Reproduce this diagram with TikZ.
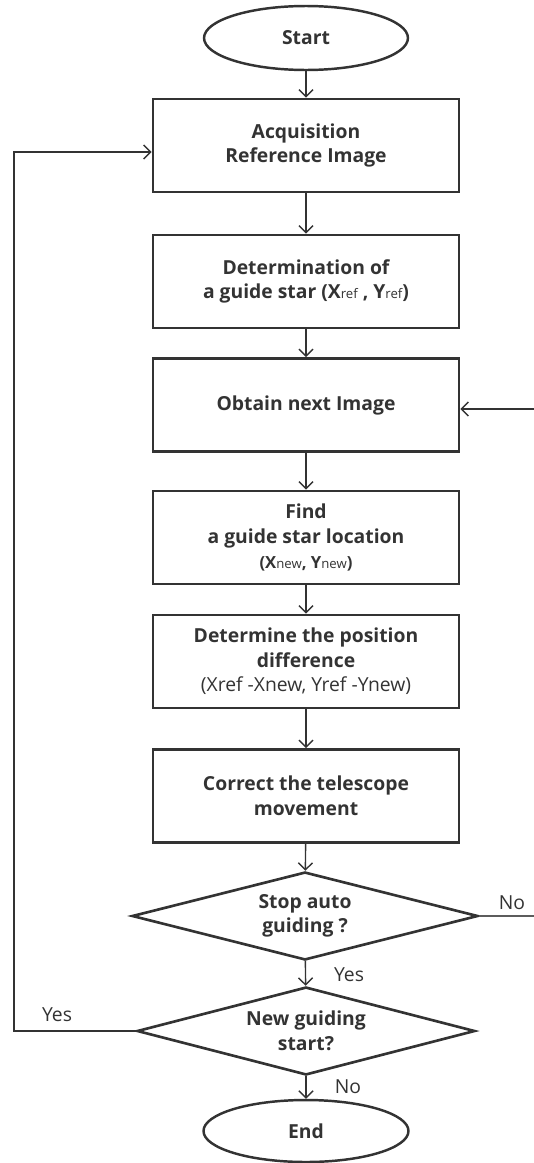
\documentclass[tikz,border=0pt]{standalone}
\usepackage{fontspec}
\setmainfont{Open Sans}
\usetikzlibrary{shapes.geometric,arrows.meta}
\definecolor{ink}{HTML}{333333}
\newcommand{\sml}[1]{{\fontsize{7.5}{8}\selectfont\mdseries #1}}
\begin{document}
\begin{tikzpicture}[x=0.02cm,y=-0.02cm,
  box/.style={draw=ink,line width=1.6pt,minimum width=6.12cm,minimum height=1.86cm,inner sep=0pt,align=center,font=\bfseries\fontsize{11}{14}\selectfont,text=ink},
  term/.style={ellipse,draw=ink,line width=1.4pt,inner sep=0pt,align=center,font=\bfseries\fontsize{11}{14}\selectfont,text=ink},
  dec/.style={diamond,draw=ink,line width=1.5pt,inner sep=0pt,aspect=3.9,align=center,font=\bfseries\fontsize{11}{14}\selectfont,text=ink},
  conn/.style={draw=ink,line width=0.8pt,-{Straight Barb[length=4pt,width=8pt]}},
  plain/.style={draw=ink!80,line width=0.8pt},
  lbl/.style={font=\fontsize{11}{12}\selectfont,text=ink,inner sep=0pt}]
\useasboundingbox (0,0) rectangle (534,1163);

\node[term,minimum width=4.08cm,minimum height=1.28cm] (start) at (306,38) {Start};
\node[box] (b1) at (306,145.5) {Acquisition\\Reference Image};
\node[box] (b2) at (306,281.5) {Determination of\\a guide star (X\sml{ref} , Y\sml{ref})};
\node[box] (b3) at (306,405) {Obtain next Image};
\node[box] (b4) at (306,537.5) {Find\\a guide star location\\{\fontsize{9.5}{12}\selectfont(X\sml{new}, Y\sml{new})}};
\node[box] (b5) at (306,661.5) {Determine the position\\difference\\{\mdseries(Xref -Xnew, Yref -Ynew)}};
\node[box] (b6) at (306,796) {Correct the telescope\\movement};
\node[dec,minimum width=6.92cm,minimum height=1.76cm] (d1) at (305,916) {Stop auto\\guiding ?};
\node[dec,minimum width=6.76cm,minimum height=1.76cm] (d2) at (306,1031) {New guiding\\start?};
\node[term,minimum width=4.1cm,minimum height=1.24cm] (end) at (306,1131) {End};

\coordinate (lt) at (14,152);
\coordinate (rin) at (534,409);
\coordinate (rout) at (534,916);

\draw[conn] (start) -- (b1);
\draw[conn] (b1) -- (b2);
\draw[conn] (b2) -- (b3);
\draw[conn] (b3) -- (b4);
\draw[conn] (b4) -- (b5);
\draw[conn] (b5) -- (b6);
\draw[conn] (b6) -- (d1);
\draw[conn] (d1) -- (d2);
\draw[conn] (d2) -- (end);
\draw[conn] (d2.west) -| (lt) -- (lt -| b1.west);
\draw[conn] (rin) -- (rin -| b3.east);
\draw[plain] (d1.east) -- (rout);

\node[lbl] (lno1) at (512,903) {No};
\node[lbl] (lyes1) at (349,975) {Yes};
\node[lbl] (lyes2) at (57,1015) {Yes};
\node[lbl] (lno2) at (348,1087) {No};
\end{tikzpicture}
\end{document}
